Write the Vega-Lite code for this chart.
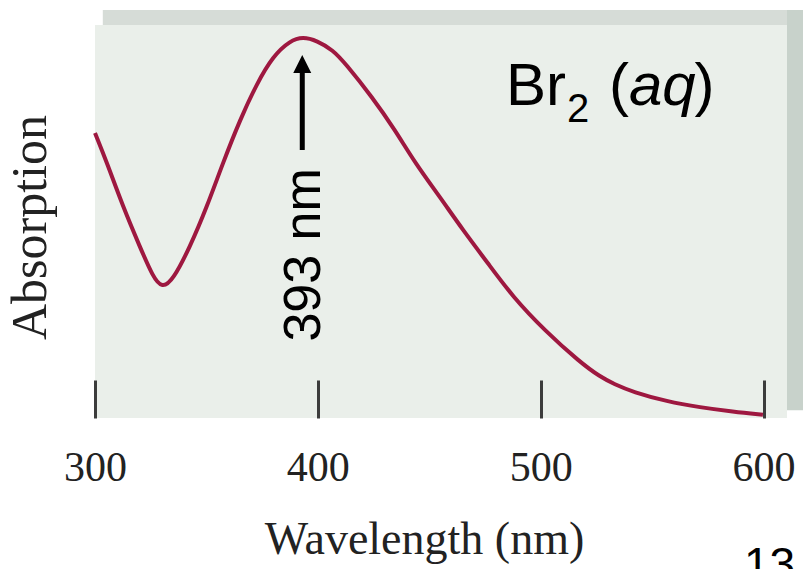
{
  "$schema": "https://vega.github.io/schema/vega-lite/v6.json",
  "width": 692,
  "height": 393,
  "autosize": {"type": "none"},
  "padding": {"left": 95, "top": 25, "right": 16, "bottom": 151},
  "background": "white",
  "config": {"view": {"fill": "#eaefea", "stroke": null}},
  "datasets": {
    "spectrum": [
      {"wavelength": 300.0, "absorption": 0.725},
      {"wavelength": 305.4, "absorption": 0.649},
      {"wavelength": 312.6, "absorption": 0.537},
      {"wavelength": 320.2, "absorption": 0.435},
      {"wavelength": 326.0, "absorption": 0.359},
      {"wavelength": 330.1, "absorption": 0.330},
      {"wavelength": 335.0, "absorption": 0.351},
      {"wavelength": 342.6, "absorption": 0.435},
      {"wavelength": 350.2, "absorption": 0.537},
      {"wavelength": 357.4, "absorption": 0.649},
      {"wavelength": 365.0, "absorption": 0.758},
      {"wavelength": 372.7, "absorption": 0.852},
      {"wavelength": 379.9, "absorption": 0.921},
      {"wavelength": 387.5, "absorption": 0.960},
      {"wavelength": 393.3, "absorption": 0.970},
      {"wavelength": 399.6, "absorption": 0.960},
      {"wavelength": 406.8, "absorption": 0.936},
      {"wavelength": 412.2, "absorption": 0.903},
      {"wavelength": 424.3, "absorption": 0.817},
      {"wavelength": 434.6, "absorption": 0.733},
      {"wavelength": 443.6, "absorption": 0.649},
      {"wavelength": 454.8, "absorption": 0.562},
      {"wavelength": 465.1, "absorption": 0.478},
      {"wavelength": 476.3, "absorption": 0.394},
      {"wavelength": 487.5, "absorption": 0.308},
      {"wavelength": 501.9, "absorption": 0.222},
      {"wavelength": 517.6, "absorption": 0.142},
      {"wavelength": 526.6, "absorption": 0.105},
      {"wavelength": 533.0, "absorption": 0.086},
      {"wavelength": 541.4, "absorption": 0.066},
      {"wavelength": 556.6, "absorption": 0.042},
      {"wavelength": 571.5, "absorption": 0.027},
      {"wavelength": 586.3, "absorption": 0.016},
      {"wavelength": 599.7, "absorption": 0.008}
    ]
  },
  "layer": [
    {
      "data": {"values": [{}]},
      "mark": {"type": "rect", "color": "#d6dcd7"},
      "encoding": {
        "x": {"datum": 303.5, "type": "quantitative"},
        "x2": {"datum": 617.7},
        "y": {"datum": 1.0, "type": "quantitative"},
        "y2": {"datum": 1.038}
      }
    },
    {
      "data": {"values": [{}]},
      "mark": {"type": "rect", "color": "#c8d2cb"},
      "encoding": {
        "x": {"datum": 610.5, "type": "quantitative"},
        "x2": {"datum": 617.7},
        "y": {"datum": 0.02, "type": "quantitative"},
        "y2": {"datum": 1.038}
      }
    },
    {
      "data": {"name": "spectrum"},
      "mark": {"type": "line", "color": "#9e1840", "strokeWidth": 4, "interpolate": "basis"},
      "encoding": {
        "x": {
          "field": "wavelength",
          "type": "quantitative",
          "scale": {"domain": [300, 610.5], "nice": false, "zero": false},
          "axis": {
            "values": [300, 400, 500, 600],
            "grid": false,
            "domain": false,
            "tickSize": -38,
            "tickWidth": 3,
            "tickColor": "#3c3c3c",
            "labelFont": "Liberation Serif",
            "labelFontSize": 42,
            "labelColor": "#222222",
            "labelBaseline": "alphabetic",
            "labelPadding": 100,
            "labelFlush": false,
            "labelOverlap": false,
            "labelBound": false,
            "title": "Wavelength (nm)",
            "titleFont": "Liberation Serif",
            "titleFontSize": 46,
            "titleFontWeight": "normal",
            "titleColor": "#222222",
            "titleX": 329,
            "titleY": 135,
            "titleAlign": "center",
            "titleBaseline": "alphabetic"
          }
        },
        "y": {
          "field": "absorption",
          "type": "quantitative",
          "scale": {"domain": [0, 1], "nice": false, "zero": false},
          "axis": {
            "ticks": false,
            "labels": false,
            "domain": false,
            "grid": false,
            "title": "Absorption",
            "titleFont": "Liberation Serif",
            "titleFontSize": 50,
            "titleFontWeight": "normal",
            "titleColor": "#222222",
            "titleAngle": 270,
            "titleX": -50,
            "titleY": 202,
            "titleAlign": "center",
            "titleBaseline": "alphabetic"
          }
        }
      }
    },
    {
      "data": {"values": [{}]},
      "mark": {"type": "rule", "color": "#000000", "strokeWidth": 5},
      "encoding": {
        "x": {"datum": 393, "type": "quantitative"},
        "y": {"datum": 0.682, "type": "quantitative"},
        "y2": {"datum": 0.885}
      }
    },
    {
      "data": {"values": [{}]},
      "mark": {"type": "point", "shape": "M0,-1L-1,1L1,1Z", "filled": true, "color": "#000000", "opacity": 1, "size": 324},
      "encoding": {
        "x": {"datum": 393, "type": "quantitative"},
        "y": {"datum": 0.901, "type": "quantitative"}
      }
    },
    {
      "data": {"values": [{}]},
      "mark": {"type": "text", "text": "393 nm", "font": "Liberation Sans", "fontSize": 52, "angle": 270, "align": "center", "baseline": "middle", "color": "#000000"},
      "encoding": {
        "x": {"datum": 394, "type": "quantitative"},
        "y": {"datum": 0.415, "type": "quantitative"}
      }
    },
    {
      "data": {"values": [{}]},
      "mark": {"type": "text", "text": "Br", "font": "Liberation Sans", "fontSize": 60, "align": "left", "baseline": "alphabetic", "color": "#000000"},
      "encoding": {
        "x": {"datum": 484.4, "type": "quantitative"},
        "y": {"datum": 0.796, "type": "quantitative"}
      }
    },
    {
      "data": {"values": [{}]},
      "mark": {"type": "text", "text": "2", "font": "Liberation Sans", "fontSize": 40, "align": "left", "baseline": "alphabetic", "color": "#000000"},
      "encoding": {
        "x": {"datum": 511.8, "type": "quantitative"},
        "y": {"datum": 0.753, "type": "quantitative"}
      }
    },
    {
      "data": {"values": [{}]},
      "mark": {"type": "text", "text": "(", "font": "Liberation Sans", "fontSize": 60, "align": "left", "baseline": "alphabetic", "color": "#000000"},
      "encoding": {
        "x": {"datum": 530.6, "type": "quantitative"},
        "y": {"datum": 0.796, "type": "quantitative"}
      }
    },
    {
      "data": {"values": [{}]},
      "mark": {"type": "text", "text": "aq", "font": "Liberation Sans", "fontSize": 60, "fontStyle": "italic", "align": "left", "baseline": "alphabetic", "color": "#000000"},
      "encoding": {
        "x": {"datum": 539.6, "type": "quantitative"},
        "y": {"datum": 0.796, "type": "quantitative"}
      }
    },
    {
      "data": {"values": [{}]},
      "mark": {"type": "text", "text": ")", "font": "Liberation Sans", "fontSize": 60, "align": "left", "baseline": "alphabetic", "color": "#000000"},
      "encoding": {
        "x": {"datum": 569.0, "type": "quantitative"},
        "y": {"datum": 0.796, "type": "quantitative"}
      }
    },
    {
      "data": {"values": [{}]},
      "mark": {"type": "text", "text": "13", "font": "Liberation Sans", "fontSize": 46, "align": "left", "baseline": "alphabetic", "color": "#000000"},
      "encoding": {
        "x": {"datum": 591.2, "type": "quantitative"},
        "y": {"datum": -0.412, "type": "quantitative"}
      }
    }
  ]
}
